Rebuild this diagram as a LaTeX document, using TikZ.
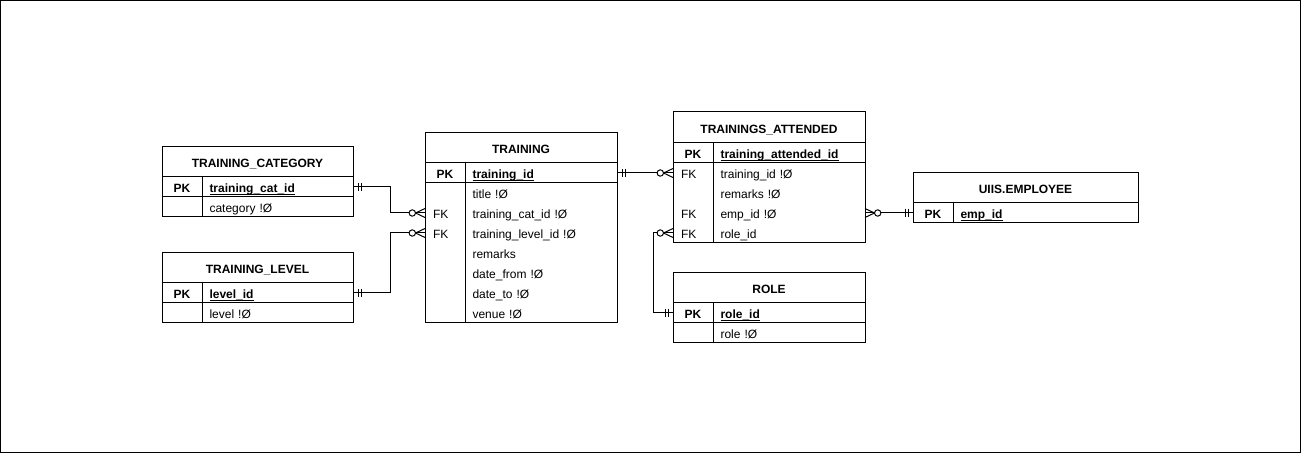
\documentclass[tikz,border=0pt]{standalone}
\usepackage{fontspec}
\setmainfont{Liberation Sans}

\tikzset{
  every node/.style={font=\fontsize{12}{14}\selectfont, inner sep=0pt, outer sep=0pt, text height=12pt, text depth=0pt},
  tblhead/.style={font=\fontsize{12}{14}\selectfont\bfseries, align=center},
  keycell/.style={minimum height=20pt, text width=24pt, inner xsep=8pt, align=left},
  fieldcell/.style={minimum height=20pt, inner xsep=7.5pt, align=left},
  rel/.style={line width=1pt},
}

% underlined key name
\newcommand{\pkname}[1]{\setbox0\hbox{#1}\rlap{\rule[-2pt]{\wd0}{0.9pt}}\box0}

% #1 name, #2 top left, #3 width, #4 head height, #5 title, #6 key field, #7 rows
\NewDocumentCommand{\ertable}{mmmmmmo}{%
\pgfmathsetmacro{\fw}{#3-55}%
\node[tblhead, minimum width=#3pt, minimum height=#4pt, anchor=north west] (#1) at (#2) {#5};
\node[keycell, align=center, font=\fontsize{12}{14}\selectfont\bfseries, anchor=north west] (#1-k1) at (#1.south west) {PK};
\node[fieldcell, text width=\fw pt, font=\fontsize{12}{14}\selectfont\bfseries, anchor=west] (#1-f1) at (#1-k1.east) {\pkname{#6}};
\coordinate (#1-end) at (#1-f1.south east);
\IfValueT{#7}{%
\foreach \k/\f [count=\i from 2] in {#7} {%
\pgfmathtruncatemacro{\j}{\i-1}%
\node[keycell, anchor=north west] (#1-k\i) at (#1-k\j.south west) {\k};
\node[fieldcell, text width=\fw pt, anchor=west] (#1-f\i) at (#1-k\i.east) {\f};
\coordinate (#1-end) at (#1-f\i.south east);
}}%
\draw (#1.north west) rectangle (#1-end);
\draw (#1.south west) -- (#1.south east);
\draw (#1-k1.south west) -- (#1-f1.south east);
\draw (#1-k1.north east) -- (#1-k1.north east |- #1-end);
}

% crow's foot ends, #2 = 1 or -1 (away from the table)
\NewDocumentCommand{\mandone}{mm}{%
\begin{scope}[shift={(#1)}, xscale=#2]
\draw (5,-4) -- (5,4) (8,-4) -- (8,4);
\end{scope}%
}
\NewDocumentCommand{\zeromany}{mm}{%
\begin{scope}[shift={(#1)}, xscale=#2]
\draw (0,-4.5) -- (9.5,0) -- (0,4.5);
\draw[fill=white] (12.7,0) circle[radius=3.2];
\end{scope}%
}

\begin{document}
\begin{tikzpicture}[x=1pt, y=-1pt, line width=1pt]
\path[use as bounding box, fill=white] (0,0) rectangle (1302,462);
\draw (0.5,0.5) rectangle (1300.5,452.5);

\ertable{tc}{162,147}{191}{30}{TRAINING\_CATEGORY}{training\_cat\_id}[{}/category !Ø]
\ertable{tl}{162,253}{191}{30}{TRAINING\_LEVEL}{level\_id}[{}/level !Ø]
\ertable{tr}{425,133}{192}{30}{TRAINING}{training\_id}[{}/title !Ø, FK/training\_cat\_id !Ø, FK/training\_level\_id !Ø, {}/remarks, {}/date\_from !Ø, {}/date\_to !Ø, {}/venue !Ø]
\ertable{ta}{673,112}{192}{31}{TRAININGS\_ATTENDED}{training\_attended\_id}[FK/training\_id !Ø, {}/remarks !Ø, FK/emp\_id !Ø, FK/role\_id]
\ertable{role}{673,273}{192}{30}{ROLE}{role\_id}[{}/role !Ø]
\ertable{emp}{913,173}{225}{30}{UIIS.EMPLOYEE}{emp\_id}

% relations
\draw[rel] (tc-f1.east) -- ++(37,0) |- (tr-k3.west);
\draw[rel] (tl-f1.east) -- ++(37,0) |- (tr-k4.west);
\draw[rel] (tr-f1.east) -- (ta-k2.west);
\draw[rel] (ta-f4.east) -- (emp-k1.west);
\draw[rel] (ta-k5.west) -- ++(-20,0) |- (role-k1.west);

\mandone{tc-f1.east}{1}
\zeromany{tr-k3.west}{-1}
\mandone{tl-f1.east}{1}
\zeromany{tr-k4.west}{-1}
\mandone{tr-f1.east}{1}
\zeromany{ta-k2.west}{-1}
\zeromany{ta-f4.east}{1}
\mandone{emp-k1.west}{-1}
\zeromany{ta-k5.west}{-1}
\mandone{role-k1.west}{-1}
\end{tikzpicture}
\end{document}
